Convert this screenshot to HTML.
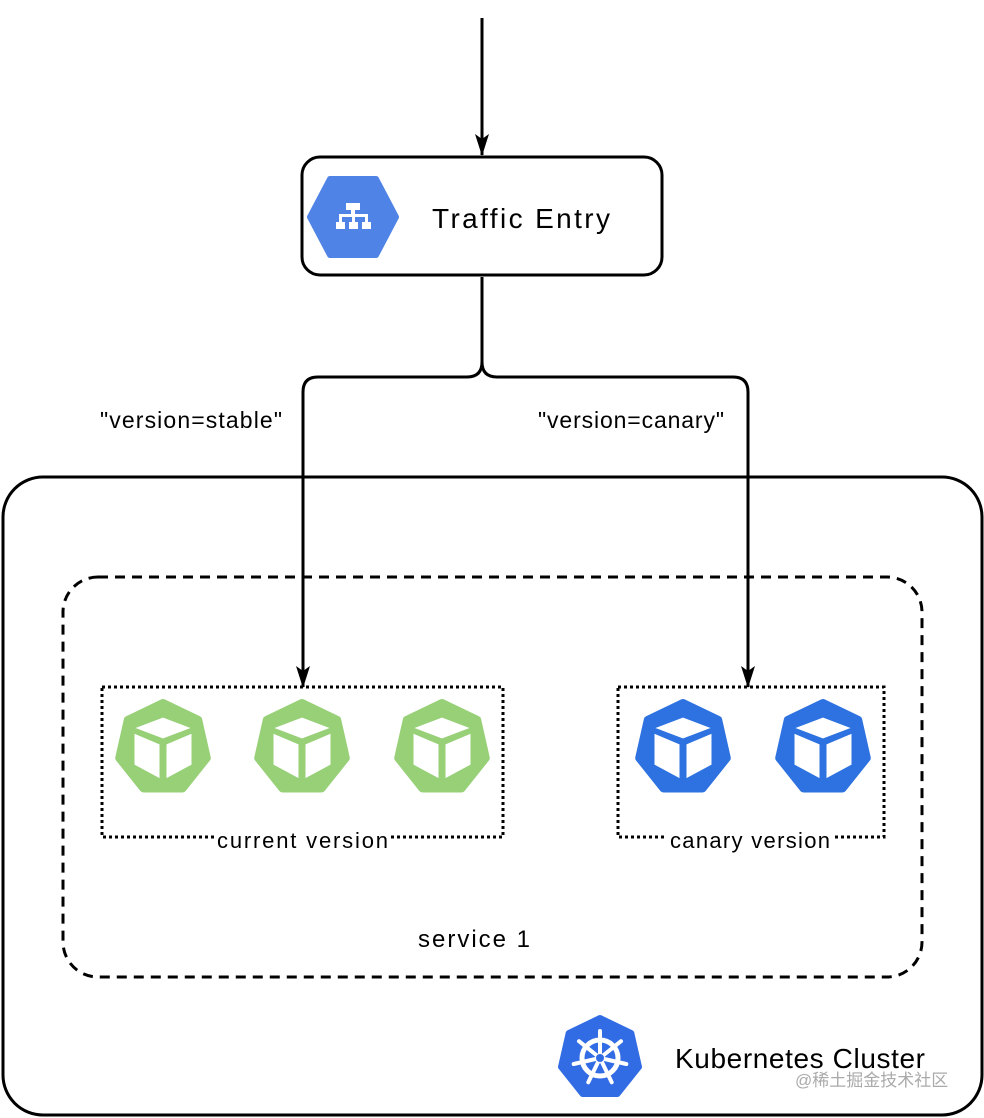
<!DOCTYPE html>
<html><head><meta charset="utf-8"><style>
html,body{margin:0;padding:0;background:#fff}
svg{display:block}
text{font-family:"Liberation Sans","DejaVu Sans",sans-serif;fill:#000}
</style></head><body>
<svg width="984" height="1118" viewBox="0 0 984 1118" xmlns="http://www.w3.org/2000/svg">
<defs>
<marker id="ah" markerWidth="24" markerHeight="16" refX="21" refY="7" orient="auto" markerUnits="userSpaceOnUse">
<path d="M0,0 L22,7 L0,14 L5,7 Z" fill="#000"/>
</marker>
<g id="pod">
<path d="M0,-45 L35.2,-28.1 L43.8,10 L19.5,40.5 L-19.5,40.5 L-43.8,10 L-35.2,-28.1 Z" stroke-linejoin="round" stroke-width="8"/>
<path d="M0,-31 L29,-20 L0,-9 L-29,-20 Z" fill="#fff"/>
<path d="M-29,-15 L-3,-4 L-3,31 L-29,17 Z" fill="#fff"/>
<path d="M29,-15 L3,-4 L3,31 L29,17 Z" fill="#fff"/>
</g>
</defs>

<rect x="3" y="477" width="979" height="638" rx="40" fill="none" stroke="#000" stroke-width="3"/>
<rect x="63" y="577" width="859" height="400" rx="35" fill="none" stroke="#000" stroke-width="3" stroke-dasharray="10,7"/>
<rect x="102" y="687" width="401" height="150" fill="none" stroke="#000" stroke-width="3" stroke-dasharray="3,3"/>
<rect x="618" y="687" width="266" height="150" fill="none" stroke="#000" stroke-width="3" stroke-dasharray="3,3"/>
<rect x="214" y="828" width="176" height="22" fill="#fff"/>
<rect x="666" y="828" width="168" height="22" fill="#fff"/>
<text x="217" y="848" font-size="22" textLength="171" lengthAdjust="spacing">current version</text>
<text x="670" y="848" font-size="22" textLength="160" lengthAdjust="spacing">canary version</text>
<text x="418" y="947" font-size="24" textLength="112" lengthAdjust="spacing">service 1</text>

<line x1="482" y1="18" x2="482" y2="155" stroke="#000" stroke-width="3" marker-end="url(#ah)"/>
<rect x="302" y="157" width="360" height="118" rx="18" fill="#fff" stroke="#000" stroke-width="3"/>
<path d="M330,179 L376,179 L396,217 L376,255 L330,255 L310,217 Z" fill="#4f83e6" stroke="#4f83e6" stroke-width="6" stroke-linejoin="round"/>
<g fill="#fff">
<rect x="346" y="203" width="14" height="7"/>
<rect x="351" y="210" width="4" height="5"/>
<rect x="339" y="214" width="29" height="3"/>
<rect x="339" y="217" width="3" height="5"/><rect x="352" y="217" width="3" height="5"/><rect x="365" y="217" width="3" height="5"/>
<rect x="336" y="222" width="9" height="7"/><rect x="349" y="222" width="9" height="7"/><rect x="362" y="222" width="9" height="7"/>
</g>
<text x="432" y="228" font-size="28" textLength="178" lengthAdjust="spacing">Traffic Entry</text>

<path d="M482,277 L482,362 Q482,377 467,377 L318,377 Q303,377 303,392 L303,687" fill="none" stroke="#000" stroke-width="3" marker-end="url(#ah)"/>
<path d="M482,362 Q482,377 497,377 L733,377 Q748,377 748,392 L748,687" fill="none" stroke="#000" stroke-width="3" marker-end="url(#ah)"/>
<text x="100" y="428" font-size="23" textLength="182" lengthAdjust="spacing">"version=stable"</text>
<text x="538" y="428" font-size="23" textLength="186" lengthAdjust="spacing">"version=canary"</text>

<use href="#pod" x="163" y="748" fill="#97d077" stroke="#97d077"/>
<use href="#pod" x="302" y="748" fill="#97d077" stroke="#97d077"/>
<use href="#pod" x="442" y="748" fill="#97d077" stroke="#97d077"/>
<use href="#pod" x="683" y="748" fill="#2d72e0" stroke="#2d72e0"/>
<use href="#pod" x="823" y="748" fill="#2d72e0" stroke="#2d72e0"/>

<g transform="translate(600,1058)">
<path d="M0,-40 L31.3,-24.9 L39,8.9 L17.4,36 L-17.4,36 L-39,8.9 L-31.3,-24.9 Z" fill="#326ce5" stroke="#326ce5" stroke-width="6" stroke-linejoin="round"/>
<circle r="18" fill="none" stroke="#fff" stroke-width="5"/>
<g stroke="#fff" stroke-width="4" stroke-linecap="round">
<line x1="0" y1="0" x2="0" y2="-27"/>
<line x1="0" y1="0" x2="21" y2="-16.8"/>
<line x1="0" y1="0" x2="26.3" y2="6"/>
<line x1="0" y1="0" x2="11.7" y2="24.3"/>
<line x1="0" y1="0" x2="-11.7" y2="24.3"/>
<line x1="0" y1="0" x2="-26.3" y2="6"/>
<line x1="0" y1="0" x2="-21" y2="-16.8"/>
</g>
<circle r="4" fill="#326ce5"/>
</g>
<text x="675" y="1068" font-size="28" textLength="250" lengthAdjust="spacing">Kubernetes Cluster</text>
<text x="795" y="1086" font-size="17" style="fill:#aaa;font-family:'Liberation Sans','Noto Sans CJK SC',sans-serif">@稀土掘金技术社区</text>
</svg>
</body></html>
